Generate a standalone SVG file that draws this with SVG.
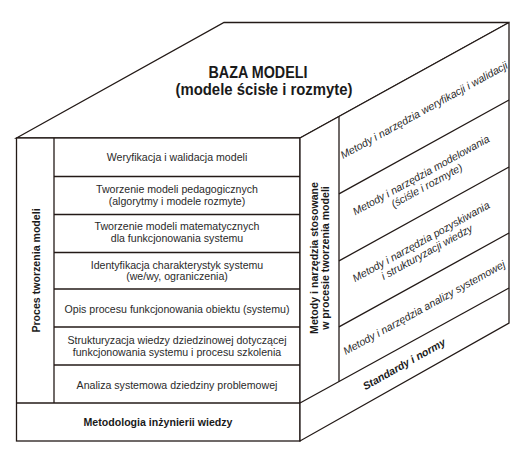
<svg xmlns="http://www.w3.org/2000/svg" width="528" height="457" viewBox="0 0 528 457">
<style>
.face{fill:#fff;stroke:#231a17;stroke-width:1.3;stroke-linejoin:miter}
.ln{fill:none;stroke:#231a17;stroke-width:1.3}
.t{font-family:"Liberation Sans",Arial,sans-serif;font-size:10.6px;fill:#2a2a2a;text-anchor:middle}
.b{font-weight:bold;fill:#1a1a1a}
.i{font-style:italic}
</style>
<rect width="528" height="457" fill="#fff"/>

<g id="top-face">
  <polygon class="face" points="16.5,138 224,22.5 509,22.5 300,138"/>
  <text class="t b" x="258" y="78.3" style="font-size:17px" textLength="99" lengthAdjust="spacingAndGlyphs">BAZA MODELI</text>
  <text class="t b" x="264" y="95" style="font-size:16px" textLength="177" lengthAdjust="spacingAndGlyphs">(modele ścisłe i rozmyte)</text>
</g>

<g id="front-face">
  <rect class="face" x="16.5" y="138" width="283.5" height="303"/>
  <line class="ln" x1="54" y1="138" x2="54" y2="403"/>
  <line class="ln" x1="54" y1="176.5" x2="300" y2="176.5"/>
  <line class="ln" x1="54" y1="214.5" x2="300" y2="214.5"/>
  <line class="ln" x1="54" y1="252.5" x2="300" y2="252.5"/>
  <line class="ln" x1="54" y1="289" x2="300" y2="289"/>
  <line class="ln" x1="54" y1="327" x2="300" y2="327"/>
  <line class="ln" x1="54" y1="365" x2="300" y2="365"/>
  <line class="ln" x1="16.5" y1="403" x2="300" y2="403"/>
</g>

<g id="proces-label">
  <text class="t b" transform="translate(39.5,270.5) rotate(-90)">Proces tworzenia modeli</text>
</g>

<g id="row-weryfikacja">
  <text class="t" x="177" y="160.5">Weryfikacja i walidacja modeli</text>
</g>
<g id="row-pedagogiczne">
  <text class="t" x="177" y="193">Tworzenie modeli pedagogicznych</text>
  <text class="t" x="177" y="205.4">(algorytmy i modele rozmyte)</text>
</g>
<g id="row-matematyczne">
  <text class="t" x="177" y="230.4">Tworzenie modeli matematycznych</text>
  <text class="t" x="177" y="242">dla funkcjonowania systemu</text>
</g>
<g id="row-identyfikacja">
  <text class="t" x="177" y="268.7">Identyfikacja charakterystyk systemu</text>
  <text class="t" x="177" y="280.4">(we/wy, ograniczenia)</text>
</g>
<g id="row-opis">
  <text class="t" x="177" y="313">Opis procesu funkcjonowania obiektu (systemu)</text>
</g>
<g id="row-strukturyzacja">
  <text class="t" x="177" y="344.2">Strukturyzacja wiedzy dziedzinowej dotyczącej</text>
  <text class="t" x="177" y="355.6">funkcjonowania systemu i procesu szkolenia</text>
</g>
<g id="row-analiza">
  <text class="t" x="177" y="388.7">Analiza systemowa dziedziny problemowej</text>
</g>
<g id="row-metodologia">
  <text class="t b" x="158" y="425.5">Metodologia inżynierii wiedzy</text>
</g>

<g id="right-face">
  <polygon class="face" points="300,138 509,22.5 509,323 300,441"/>
  <line class="ln" x1="339" y1="116.4" x2="339" y2="381.5"/>
  <line class="ln" x1="339" y1="193.9" x2="509" y2="100"/>
  <line class="ln" x1="339" y1="260.9" x2="509" y2="167"/>
  <line class="ln" x1="339" y1="326.9" x2="509" y2="233"/>
  <line class="ln" x1="300" y1="403" x2="509" y2="288"/>
</g>

<g id="metody-label">
  <text class="t b" transform="translate(318,258) rotate(-90)">Metody i narzędzia stosowane</text>
  <text class="t b" transform="translate(329,258) rotate(-90)">w procesie tworzenia modeli</text>
</g>

<g id="band-weryfikacja" transform="translate(424,110) rotate(-28.9)">
  <text class="t i" x="0" y="3.8">Metody i narzędzia weryfikacji i walidacji</text>
</g>
<g id="band-modelowanie" transform="translate(424,180.5) rotate(-28.9)">
  <text class="t i" x="0" y="-2.5">Metody i narzędzia modelowania</text>
  <text class="t i" x="0" y="9.5">(ściśle i rozmyte)</text>
</g>
<g id="band-pozyskiwanie" transform="translate(424,247) rotate(-28.9)">
  <text class="t i" x="0" y="-2.5">Metody i narzędzia pozyskiwania</text>
  <text class="t i" x="0" y="9.5">i strukturyzacji wiedzy</text>
</g>
<g id="band-analiza" transform="translate(424,307.5) rotate(-28.9)">
  <text class="t i" x="0" y="3.8">Metody i narzędzia analizy systemowej</text>
</g>
<g id="band-standardy" transform="translate(404,364) rotate(-29.5)">
  <text class="t b i" x="0" y="3.8">Standardy i normy</text>
</g>
</svg>
